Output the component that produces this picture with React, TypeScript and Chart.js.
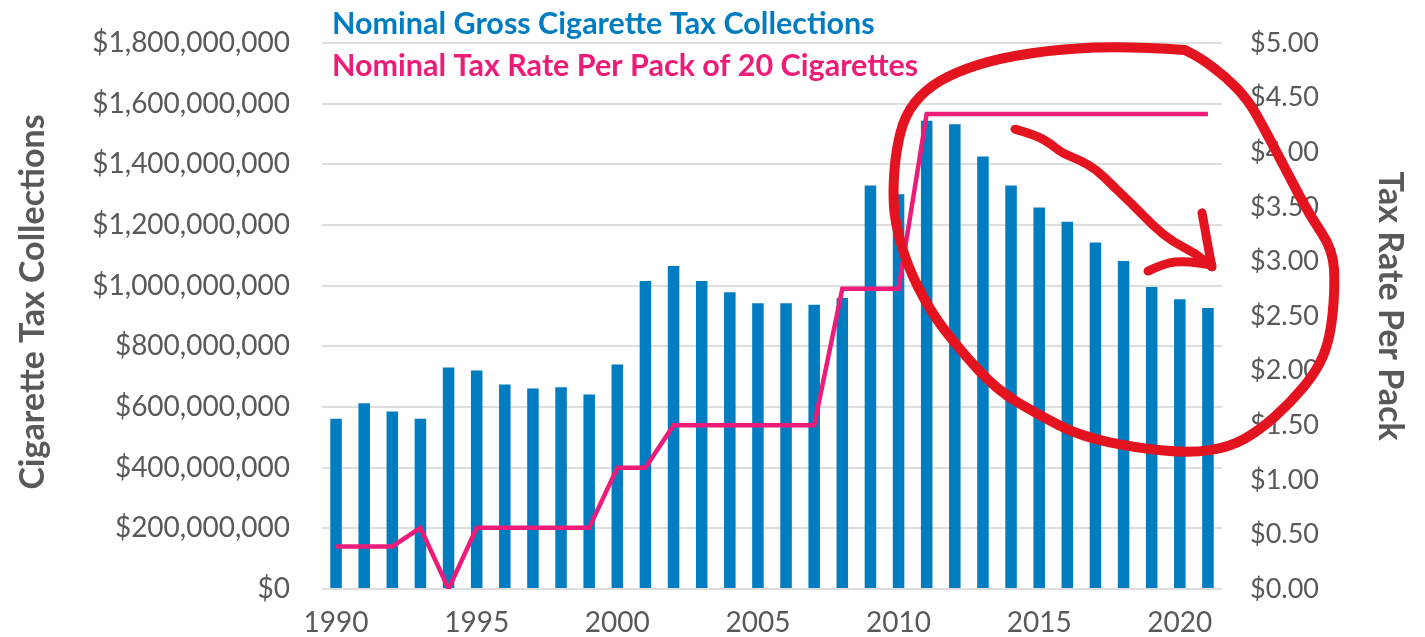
import React, { useEffect, useRef } from 'react';
import { Chart, registerables } from 'chart.js';

Chart.register(...registerables);

// ---------- data ----------
const years: string[] = [
  '1990', '1991', '1992', '1993', '1994', '1995', '1996', '1997', '1998', '1999',
  '2000', '2001', '2002', '2003', '2004', '2005', '2006', '2007', '2008', '2009',
  '2010', '2011', '2012', '2013', '2014', '2015', '2016', '2017', '2018', '2019',
  '2020', '2021',
];

// Nominal gross cigarette tax collections (dollars)
const collections: number[] = [
  561e6, 612e6, 585e6, 561e6, 730e6, 720e6, 674e6, 661e6, 665e6, 641e6,
  740e6, 1015e6, 1065e6, 1015e6, 978e6, 942e6, 942e6, 937e6, 959e6, 1330e6,
  1301e6, 1544e6, 1532e6, 1426e6, 1330e6, 1258e6, 1211e6, 1142e6, 1081e6, 996e6,
  955e6, 926e6,
];

// Nominal tax rate per pack of 20 (dollars)
const taxRate: number[] = [
  0.39, 0.39, 0.39, 0.56, 0.0, 0.56, 0.56, 0.56, 0.56, 0.56,
  1.11, 1.11, 1.5, 1.5, 1.5, 1.5, 1.5, 1.5, 2.75, 2.75,
  2.75, 4.35, 4.35, 4.35, 4.35, 4.35, 4.35, 4.35, 4.35, 4.35,
  4.35, 4.35,
];

const leftAxisMax = 1.8e9;
const leftAxisStep = 2e8;
const rightAxisMax = 5;
const rightAxisStep = 0.5;
const labeledYears: string[] = ['1990', '1995', '2000', '2005', '2010', '2015', '2020'];

const seriesNames: string[] = [
  'Nominal Gross Cigarette Tax Collections',
  'Nominal Tax Rate Per Pack of 20 Cigarettes',
];
const leftTitle = 'Cigarette Tax Collections';
const rightTitle = 'Tax Rate Per Pack';

// Hand-drawn red annotation, in data units (year, $ millions on left axis)
const loopYears: number[] = [
  2020.18, 2018.23, 2015.74, 2013.61, 2012.01, 2010.94, 2010.23, 2009.91, 2009.8, 2009.87,
  2010.3, 2011.12, 2012.18, 2013.5, 2014.92, 2016.45, 2018.48, 2020.36, 2021.78, 2022.85,
  2023.92, 2024.88, 2025.34, 2025.52, 2025.45, 2024.63, 2023.92, 2023.03, 2022.43, 2021.61,
  2020.72, 2020.18,
];
const loopMillions: number[] = [
  1777, 1790, 1780, 1751, 1704, 1645, 1563, 1447, 1315, 1210,
  1068, 916, 788, 656, 577, 504, 465, 448, 468, 524,
  613, 719, 824, 986, 1118, 1230, 1355, 1513, 1612, 1691,
  1751, 1777,
];
const arrowYears: number[] = [
  2014.14, 2014.85, 2015.38, 2015.81, 2016.45, 2017.06, 2017.62, 2018.34, 2019.05, 2019.76,
  2020.54, 2021.14,
];
const arrowMillions: number[] = [
  1516, 1497, 1470, 1437, 1414, 1381, 1329, 1266, 1197, 1144, 1108, 1062,
];
const headAYears: number[] = [2020.79, 2020.93, 2021.14];
const headAMillions: number[] = [1240, 1167, 1062];
const headBYears: number[] = [2018.87, 2019.47, 2020.19, 2021.14];
const headBMillions: number[] = [1048, 1075, 1081, 1068];

// ---------- styles ----------
const BLUE = '#007DC1';
const PINK = '#EC1C78';
const RED = '#E3141F';
const GREY = '#595959';
const GRID = '#DEDEDE';
const FONT = 'Lato';

const legendPlugin = {
  id: 'textLegend',
  afterDraw(chart: any) {
    const { ctx, chartArea } = chart;
    ctx.save();
    ctx.font = `bold 30.5px ${FONT}`;
    ctx.textAlign = 'left';
    ctx.textBaseline = 'alphabetic';
    ctx.fillStyle = BLUE;
    ctx.fillText(seriesNames[0], chartArea.left + 10, 34);
    ctx.fillStyle = PINK;
    ctx.fillText(seriesNames[1], chartArea.left + 10, 76);
    ctx.restore();
  },
};

// Axis titles (rotated), placed slightly above the axis centre as in the source
const axisTitlePlugin = {
  id: 'axisTitles',
  afterDraw(chart: any) {
    const { ctx, chartArea } = chart;
    const yl = chart.scales.y;
    const yr = chart.scales.y1;
    const midY = (chartArea.top + chartArea.bottom) / 2;
    ctx.save();
    ctx.font = `bold 34px ${FONT}`;
    ctx.fillStyle = GREY;
    ctx.textAlign = 'center';
    ctx.textBaseline = 'middle';
    ctx.save();
    ctx.translate(yl.left + 33.4, midY - 14);
    ctx.rotate(-Math.PI / 2);
    ctx.fillText(leftTitle, 0, 0);
    ctx.restore();
    ctx.save();
    ctx.translate(yr.right - 35.4, midY - 10);
    ctx.rotate(Math.PI / 2);
    ctx.fillText(rightTitle, 0, 0);
    ctx.restore();
    ctx.restore();
  },
};

function strokeSmooth(ctx: CanvasRenderingContext2D, pts: { x: number; y: number }[]) {
  if (pts.length < 2) return;
  ctx.beginPath();
  ctx.moveTo(pts[0].x, pts[0].y);
  if (pts.length === 2) {
    ctx.lineTo(pts[1].x, pts[1].y);
  } else {
    for (let i = 1; i < pts.length - 1; i++) {
      const mx = (pts[i].x + pts[i + 1].x) / 2;
      const my = (pts[i].y + pts[i + 1].y) / 2;
      ctx.quadraticCurveTo(pts[i].x, pts[i].y, mx, my);
    }
    const last = pts[pts.length - 1];
    ctx.lineTo(last.x, last.y);
  }
  ctx.stroke();
}

const annotationPlugin = {
  id: 'redScribble',
  afterDraw(chart: any) {
    const { ctx } = chart;
    const xs = chart.scales.x;
    const ys = chart.scales.y;
    const toPts = (yrs: number[], mils: number[]) =>
      yrs.map((yr, i) => ({
        x: xs.getPixelForValue(yr - 1990),
        y: ys.getPixelForValue(mils[i] * 1e6),
      }));
    ctx.save();
    ctx.strokeStyle = RED;
    ctx.lineCap = 'round';
    ctx.lineJoin = 'round';
    ctx.lineWidth = 10;
    strokeSmooth(ctx, toPts(loopYears, loopMillions));
    ctx.lineWidth = 9;
    strokeSmooth(ctx, toPts(arrowYears, arrowMillions));
    strokeSmooth(ctx, toPts(headAYears, headAMillions));
    strokeSmooth(ctx, toPts(headBYears, headBMillions));
    ctx.restore();
  },
};

export default function App() {
  const canvasRef = useRef<HTMLCanvasElement | null>(null);

  useEffect(() => {
    if (!canvasRef.current) return;
    const chart = new Chart(canvasRef.current, {
      type: 'bar',
      data: {
        labels: years,
        datasets: [
          {
            type: 'line',
            label: seriesNames[1],
            data: taxRate,
            yAxisID: 'y1',
            borderColor: PINK,
            backgroundColor: PINK,
            borderWidth: 4.5,
            pointRadius: 0,
            tension: 0,
            order: 0,
          } as any,
          {
            type: 'bar',
            label: seriesNames[0],
            data: collections,
            yAxisID: 'y',
            backgroundColor: BLUE,
            categoryPercentage: 1,
            barPercentage: 0.41,
            order: 1,
          },
        ],
      },
      options: {
        animation: false,
        responsive: true,
        maintainAspectRatio: false,
        layout: { padding: { top: 43, left: 0, right: 0, bottom: 0 } },
        plugins: {
          legend: { display: false },
          tooltip: { enabled: false },
        },
        scales: {
          x: {
            type: 'category',
            offset: true,
            grid: { display: false, drawTicks: false },
            border: { display: false },
            ticks: {
              autoSkip: false,
              maxRotation: 0,
              minRotation: 0,
              color: GREY,
              padding: 17,
              font: { family: FONT, size: 28 },
              callback: function (this: any, value: any) {
                const lbl = years[value as number];
                return labeledYears.includes(lbl) ? lbl : '';
              },
            },
            afterFit: (scale: any) => {
              scale.height = 48;
            },
          },
          y: {
            type: 'linear',
            position: 'left',
            min: 0,
            max: leftAxisMax,
            grid: {
              color: GRID,
              lineWidth: 2,
              drawTicks: true,
              tickLength: 32,
              tickColor: 'rgba(0,0,0,0)',
            },
            border: { display: false },
            ticks: {
              stepSize: leftAxisStep,
              color: GREY,
              padding: 0,
              font: { family: FONT, size: 28 },
              callback: (v: any) => '$' + Number(v).toLocaleString('en-US'),
            },
            afterFit: (scale: any) => {
              scale.width = 322;
            },
          },
          y1: {
            type: 'linear',
            position: 'right',
            min: 0,
            max: rightAxisMax,
            grid: {
              display: true,
              drawOnChartArea: false,
              color: 'rgba(0,0,0,0)',
              drawTicks: true,
              tickLength: 28,
              tickColor: 'rgba(0,0,0,0)',
            },
            border: { display: false },
            ticks: {
              stepSize: rightAxisStep,
              color: GREY,
              padding: 0,
              font: { family: FONT, size: 27 },
              callback: (v: any) => '$' + Number(v).toFixed(2),
            },
            afterFit: (scale: any) => {
              scale.width = 203;
            },
          },
        },
      },
      plugins: [legendPlugin, axisTitlePlugin, annotationPlugin],
    });
    return () => chart.destroy();
  }, []);

  return (
    <div style={{ position: 'fixed', left: 0, top: 0, width: 1425, height: 637, background: '#fff' }}>
      <canvas ref={canvasRef} />
    </div>
  );
}
